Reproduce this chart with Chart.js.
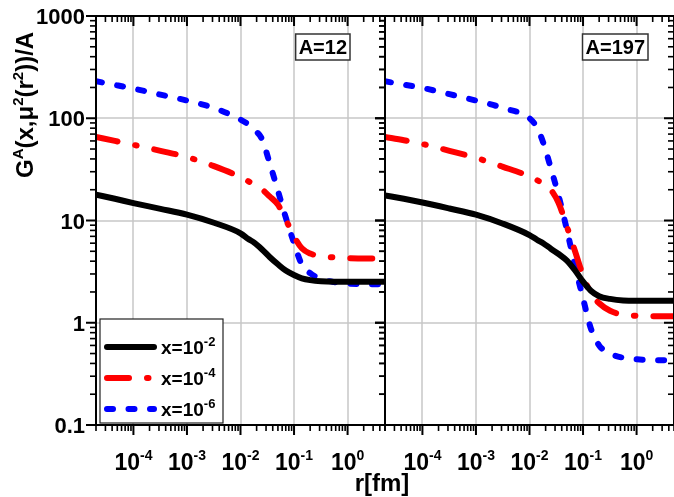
<!DOCTYPE html>
<html>
<head>
<meta charset="utf-8">
<script src="https://cdn.jsdelivr.net/npm/chart.js@4.4.1/dist/chart.umd.min.js"></script>
<style>
  html, body { margin: 0; padding: 0; background: #fff; }
  #wrap { position: relative; width: 674px; height: 497px; }
  #wrap canvas { position: absolute; left: 0; top: 0; }
</style>
</head>
<body>
<div id="wrap">
  <canvas id="cA12" width="674" height="497"></canvas>
  <canvas id="cA197" width="674" height="497"></canvas>
</div>
<script>
/* ── datos ───────────────────────────────────────────── */
const r = [2e-5, 4.5e-5, 1e-4, 3.2e-4, 1e-3, 3.2e-3, 0.01, 0.014, 0.018, 0.025, 0.035,
           0.05, 0.07, 0.1, 0.14, 0.2, 0.32, 0.56, 1, 2.2, 5];

// A = 12
const a12_x2 = [17.9, 16.3, 14.8, 13.0, 11.4, 9.5, 7.5, 6.6, 6.08, 5.24, 4.4,
                3.73, 3.24, 2.93, 2.72, 2.61, 2.54, 2.52, 2.52, 2.52, 2.52];
const a12_x4 = [65.6, 60, 55, 48, 41.8, 34, 26.6, 24.2, 22.5, 20.2, 17.2,
                14.3, 10.2, 7.0, 5.35, 4.75, 4.5, 4.35, 4.28, 4.25, 4.25];
const a12_x6 = [230, 212, 195, 170, 149, 126, 97, 87, 77, 63, 36.5,
                19.5, 10.7, 6.0, 3.7, 3.05, 2.68, 2.5, 2.42, 2.39, 2.38];

// A = 197
const a197_x2 = [17.6, 16.3, 15.0, 13.1, 11.4, 9.3, 7.2, 6.45, 6.0, 5.3, 4.7,
                 4.05, 3.28, 2.52, 2.06, 1.82, 1.71, 1.65, 1.64, 1.64, 1.64];
const a197_x4 = [65.6, 61, 56, 48, 41, 33.5, 27, 24.7, 23, 20, 14.8,
                 8.7, 5.1, 2.9, 1.94, 1.55, 1.31, 1.2, 1.17, 1.16, 1.16];
const a197_x6 = [230, 213, 198, 172, 149, 126, 100, 80, 58, 32.6, 17.4,
                 8.1, 3.67, 1.73, 0.88, 0.6, 0.5, 0.455, 0.44, 0.43, 0.43];

const seriesExp   = ['-2', '-4', '-6'];
const yTickVals   = [0.1, 1, 10, 100, 1000];
const yTickLabels = ['0.1', '1', '10', '100', '1000'];
const xTickExps   = [-4, -3, -2, -1, 0];
const xMin = 2e-5, xMax = 5;

/* ── estilos ─────────────────────────────────────────── */
const FONT = 'Arial, "Liberation Sans", Helvetica, sans-serif';
const LW = 6;
const lineStyles = [
  { color: '#000000', dash: [] },
  { color: '#ff0000', dash: [22, 18, 1.5, 18] },
  { color: '#0000ff', dash: [6, 15.5] },
];

const pts = ys => r.map((x, i) => ({ x, y: ys[i] }));

// texto con superíndices: parts = [[texto, esSup], ...]
function richWidth(ctx, parts, size, supSize) {
  let w = 0;
  parts.forEach(([t, sup]) => {
    ctx.font = `bold ${sup ? supSize : size}px ${FONT}`;
    w += ctx.measureText(t).width;
  });
  return w;
}
function drawRich(ctx, parts, x, y, size, supSize, align) {
  let cx = x;
  if (align === 'center') cx -= richWidth(ctx, parts, size, supSize) / 2;
  ctx.textAlign = 'left';
  ctx.textBaseline = 'alphabetic';
  parts.forEach(([t, sup]) => {
    ctx.font = `bold ${sup ? supSize : size}px ${FONT}`;
    ctx.fillText(t, cx, sup ? y - size * 0.42 : y);
    cx += ctx.measureText(t).width;
  });
}

// marcas 1..9 por década dentro de [lo, hi]
function logTicks(lo, hi) {
  const out = [];
  for (let e = Math.floor(Math.log10(lo)); e <= Math.ceil(Math.log10(hi)); e++) {
    for (let m = 1; m <= 9; m++) {
      const v = m * Math.pow(10, e);
      if (v >= lo * 0.999 && v <= hi * 1.001) out.push({ v, major: m === 1 });
    }
  }
  return out;
}

/* ── plugin: rejilla, marco, marcas, textos, leyenda ─── */
const decoPlugin = {
  id: 'deco',
  beforeDatasetsDraw(chart) {
    const { ctx, chartArea: a, scales: { x, y } } = chart;
    ctx.save();
    ctx.fillStyle = '#c8c8c8';
    xTickExps.forEach(e => {
      const px = x.getPixelForValue(Math.pow(10, e));
      ctx.fillRect(Math.round(px) - 0.75, a.top, 1.5, a.bottom - a.top);
    });
    yTickVals.slice(1, -1).forEach(v => {
      const py = y.getPixelForValue(v);
      ctx.fillRect(a.left, Math.round(py) - 0.75, a.right - a.left, 1.5);
    });
    ctx.restore();
  },
  afterDatasetsDraw(chart, args, opts) {
    const { ctx, chartArea: a, scales: { x, y } } = chart;
    ctx.save();
    ctx.fillStyle = '#000';

    // marcas: todas hacia la izquierda / hacia abajo
    logTicks(0.1, 1000).forEach(k => {
      const py = y.getPixelForValue(k.v);
      const len = k.major ? 10 : 6, w = k.major ? 2 : 1.6;
      ctx.fillRect(a.left - len, py - w / 2, len, w);
      ctx.fillRect(a.right - len, py - w / 2, len, w);
    });
    logTicks(xMin, xMax).forEach(k => {
      const px = x.getPixelForValue(k.v);
      const len = k.major ? 10 : 6, w = k.major ? 2 : 1.6;
      ctx.fillRect(px - w / 2, a.top, w, len);
      ctx.fillRect(px - w / 2, a.bottom, w, len);
    });

    // marco
    ctx.strokeStyle = '#000';
    ctx.lineWidth = 2;
    ctx.setLineDash([]);
    ctx.strokeRect(a.left, a.top, a.right - a.left, a.bottom - a.top);

    // etiquetas eje x
    xTickExps.forEach(e => {
      drawRich(ctx, [['10', false], [String(e), true]],
               x.getPixelForValue(Math.pow(10, e)), 470, 23, 14, 'center');
    });

    // caja A=..
    ctx.font = `bold 20px ${FONT}`;
    const tw = ctx.measureText(opts.label).width;
    const bx = opts.boxRight - tw - 6, by = 34, bw = tw + 6, bh = 26;
    ctx.fillStyle = '#fff';
    ctx.fillRect(bx, by, bw, bh);
    ctx.strokeStyle = '#333';
    ctx.lineWidth = 1.5;
    ctx.strokeRect(bx, by, bw, bh);
    ctx.fillStyle = '#000';
    ctx.textAlign = 'center';
    ctx.textBaseline = 'alphabetic';
    ctx.fillText(opts.label, bx + bw / 2, by + bh / 2 + 7.2);

    if (opts.left) {
      // etiquetas eje y
      ctx.font = `bold 22px ${FONT}`;
      ctx.textAlign = 'right';
      yTickVals.forEach((v, i) => {
        ctx.fillText(yTickLabels[i], 85, y.getPixelForValue(v) + 8);
      });

      // título eje y
      ctx.save();
      ctx.translate(33, 178);
      ctx.rotate(-Math.PI / 2);
      drawRich(ctx, [['G', false], ['A', true], ['(x,', false], ['\u03bc', false], ['2', true],
                     ['(r', false], ['2', true], ['))/A', false]], 0, 0, 24, 15, 'left');
      ctx.restore();

      // título eje x
      ctx.font = `bold 24px ${FONT}`;
      ctx.textAlign = 'center';
      ctx.fillText('r[fm]', 382, 491);

      // leyenda
      const lx = 100, ly = 319, lw = 123, lh = 104;
      ctx.fillStyle = '#fff';
      ctx.fillRect(lx, ly, lw, lh);
      ctx.strokeStyle = '#222';
      ctx.lineWidth = 1.2;
      ctx.strokeRect(lx, ly, lw, lh);
      const rows = [347, 378, 409];
      chart.data.datasets.forEach((ds, i) => {
        ctx.save();
        ctx.strokeStyle = ds.borderColor;
        ctx.lineWidth = LW;
        ctx.lineCap = 'round';
        ctx.setLineDash(ds.borderDash);
        ctx.beginPath();
        ctx.moveTo(104 + LW / 2, rows[i]);
        ctx.lineTo(157 - LW / 2, rows[i]);
        ctx.stroke();
        ctx.restore();
        ctx.fillStyle = '#000';
        drawRich(ctx, [['x=10', false], [seriesExp[i], true]], 161, rows[i] + 7, 19, 13, 'left');
      });
    }
    ctx.restore();
  }
};

function makePanel(id, label, series, left) {
  return new Chart(document.getElementById(id), {
    type: 'line',
    data: {
      datasets: series.map((ys, i) => ({
        label: 'x=10' + seriesExp[i],
        data: pts(ys),
        borderColor: lineStyles[i].color,
        borderDash: lineStyles[i].dash,
        borderWidth: LW,
        borderCapStyle: 'round',
        borderJoinStyle: 'round',
        pointRadius: 0,
        cubicInterpolationMode: 'monotone',
        fill: false,
      }))
    },
    options: {
      responsive: false,
      animation: false,
      events: [],
      layout: { padding: left ? { left: 96, right: 289, top: 16, bottom: 72 }
                              : { left: 385, right: 0, top: 16, bottom: 72 } },
      scales: {
        x: { type: 'logarithmic', min: xMin, max: xMax, display: false },
        y: { type: 'logarithmic', min: 0.1, max: 1000, display: false }
      },
      plugins: {
        legend: { display: false },
        tooltip: { enabled: false },
        deco: { label, left, boxRight: left ? 350 : 648 }
      }
    },
    plugins: [decoPlugin]
  });
}

makePanel('cA12',  'A=12',  [a12_x2,  a12_x4,  a12_x6],  true);
makePanel('cA197', 'A=197', [a197_x2, a197_x4, a197_x6], false);
</script>
</body>
</html>
